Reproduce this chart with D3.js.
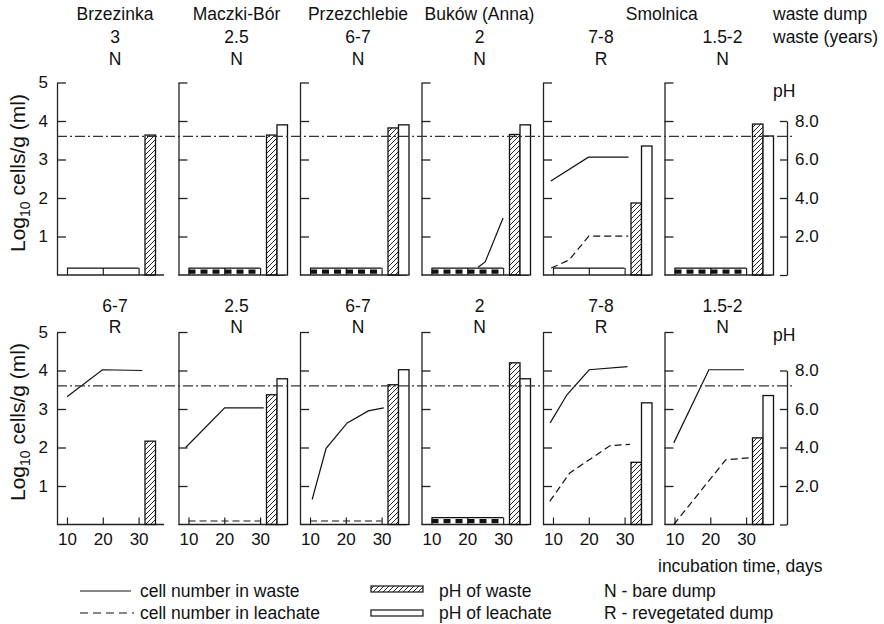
<!DOCTYPE html>
<html>
<head>
<meta charset="utf-8">
<script src="https://cdn.jsdelivr.net/npm/d3@7"></script>
<style>
  body { margin: 0; background: #fff; }
  text { font-family: "Liberation Sans", Arial, sans-serif; fill: #111; }
</style>
</head>
<body>
<script>
// dump names (top row only), Smolnica spans the last two panels
const siteNames = ['Brzezinka', 'Maczki-Bór', 'Przezchlebie', 'Buków (Anna)', 'Smolnica'];
const sitePanels = [[0], [1], [2], [3], [4, 5]];

// age of waste (years) and dump type, per row
const wasteAge = [
    ['3', '2.5', '6-7', '2', '7-8', '1.5-2'],
    ['6-7', '2.5', '6-7', '2', '7-8', '1.5-2']
];
const dumpType = [
    ['N', 'N', 'N', 'N', 'R', 'N'],
    ['R', 'N', 'N', 'N', 'R', 'N']
];

// pH bars (null = not measured)
const pHWaste = [
    [7.27, 7.27, 7.64, 7.3, 3.74, 7.84],
    [4.33, 6.74, 7.26, 8.4, 3.23, 4.5]
];
const pHLeachate = [
    [null, 7.8, 7.8, 7.8, 6.7, 7.22],
    [null, 7.57, 8.04, 7.57, 6.32, 6.7]
];

// log10 cells, [day, value]
const wasteCells = [
    [[], [], [], [[23, 0.2], [25, 0.34], [30, 1.48]], [[9.4, 2.44], [19.9, 3.06], [31.1, 3.06]], []],
    [
        [[10, 3.32], [19.9, 4.02], [31, 4.0]],
        [[9.2, 2.0], [20.1, 3.03], [31, 3.03]],
        [[10.6, 0.65], [14.5, 1.98], [20.4, 2.64], [26.3, 2.95], [30.6, 3.03]],
        [],
        [[9.2, 2.64], [13.9, 3.37], [20.1, 4.02], [30.8, 4.1]],
        [[9.8, 2.12], [19.6, 4.02], [29.4, 4.02]]
    ]
];
const leachateCells = [
    [[], [], [], [], [[9.5, 0.18], [14.5, 0.39], [20, 1.01], [31, 1.01]], []],
    [
        [], [], [], [],
        [[9.1, 0.6], [14.7, 1.34], [26, 2.05], [31.5, 2.08]],
        [[9.8, 0.0], [24.3, 1.68], [31.8, 1.74]]
    ]
];

// below-detection flat lines: 'waste', 'leachate', 'both' or ''
const belowLimit = [
    ['waste', 'both', 'both', 'both', 'waste', 'both'],
    ['', 'leachate', 'leachate', 'both', '', '']
];
const limitDays = [10, 30];
const wasteLimit = 0.18;
const leachateLimit = 0.09;

const dayTicks = [10, 20, 30];
const cellTicks = [1, 2, 3, 4, 5];
const pHTicks = [0, 2, 4, 6, 8];
const neutralPH = 7.2;

const W = 884, H = 624;
const rowBase = [275, 524.5];
const rowHeight = 192.5;
const panelLeft = i => 57 + i * 121.5;
const fontSize = 17.5;

const svg = d3.select('body').append('svg')
    .attr('width', W)
    .attr('height', H);

const defs = svg.append('defs');
defs.append('pattern')
    .attr('id', 'hatch')
    .attr('patternUnits', 'userSpaceOnUse')
    .attr('width', 5)
    .attr('height', 5)
    .append('path')
    .attr('d', 'M0,5 L5,0 M-1,1 L1,-1 M4,6 L6,4')
    .attr('stroke', '#111')
    .attr('stroke-width', 0.9);

const line = (x, y) => d3.line().x(d => x(d[0])).y(d => y(d[1]));

rowBase.forEach((y0, r) => {
    const y = d3.scaleLinear().domain([0, 5]).range([y0, y0 - rowHeight]);
    const yPH = d3.scaleLinear().domain([0, 8]).range([y0, y(4)]);

    for (let i = 0; i < 6; i++) {
        const ax = panelLeft(i);
        const x = d3.scaleLinear().domain([10, 30]).range([ax + 10, ax + 81.6]);
        const xb = d3.scaleBand().domain(['waste', 'leachate']).range([ax + 88, ax + 109]);
        const g = svg.append('g');

        // left axis
        const yAxis = d3.axisLeft(y)
            .tickValues(cellTicks)
            .tickSizeInner(-9)
            .tickSizeOuter(0)
            .tickPadding(9)
            .tickFormat(i === 0 ? d3.format('d') : '');
        const ya = g.append('g').attr('transform', `translate(${ax},0)`).call(yAxis);
        ya.selectAll('path, line').attr('stroke', '#222').attr('stroke-width', 1.3);
        ya.selectAll('text').attr('font-size', 17).attr('font-family', '"Liberation Sans", Arial, sans-serif').attr('fill', '#111');

        // baseline and day ticks
        g.append('line')
            .attr('x1', ax).attr('x2', ax + 107)
            .attr('y1', y0).attr('y2', y0)
            .attr('stroke', '#222').attr('stroke-width', 1.3);
        const xAxis = d3.axisBottom(x)
            .tickValues(dayTicks)
            .tickSizeInner(-7)
            .tickSizeOuter(0)
            .tickPadding(8)
            .tickFormat(r === 1 ? d3.format('d') : '');
        const xa = g.append('g').attr('transform', `translate(0,${y0})`).call(xAxis);
        xa.select('.domain').remove();
        xa.selectAll('line').attr('stroke', '#222').attr('stroke-width', 1.2);
        xa.selectAll('text').attr('font-size', 17).attr('font-family', '"Liberation Sans", Arial, sans-serif').attr('fill', '#111');

        // below-detection lines
        const lim = belowLimit[r][i];
        if (lim === 'waste' || lim === 'both') {
            g.append('path')
                .attr('d', line(x, y)(limitDays.map(d => [d, wasteLimit])))
                .attr('fill', 'none').attr('stroke', '#111').attr('stroke-width', 1.2);
        }
        if (lim === 'both') {
            g.append('path')
                .attr('d', line(x, y)(limitDays.map(d => [d, leachateLimit])))
                .attr('fill', 'none').attr('stroke', '#111').attr('stroke-width', 4.2)
                .attr('stroke-dasharray', '7,5');
        }
        if (lim === 'leachate') {
            g.append('path')
                .attr('d', line(x, y)(limitDays.map(d => [d, leachateLimit])))
                .attr('fill', 'none').attr('stroke', '#111').attr('stroke-width', 1.1)
                .attr('stroke-dasharray', '7,4');
        }

        // cell number curves
        if (wasteCells[r][i].length) {
            g.append('path')
                .attr('d', line(x, y)(wasteCells[r][i]))
                .attr('fill', 'none').attr('stroke', '#111').attr('stroke-width', 1.2);
        }
        if (leachateCells[r][i].length) {
            g.append('path')
                .attr('d', line(x, y)(leachateCells[r][i]))
                .attr('fill', 'none').attr('stroke', '#111').attr('stroke-width', 1.2)
                .attr('stroke-dasharray', '7,4');
        }

        // pH bars
        const bars = [['waste', pHWaste[r][i]], ['leachate', pHLeachate[r][i]]].filter(d => d[1] != null);
        g.selectAll('rect.bar')
            .data(bars)
            .enter()
            .append('rect')
            .attr('class', 'bar')
            .attr('x', d => xb(d[0]))
            .attr('width', xb.bandwidth())
            .attr('y', d => yPH(d[1]))
            .attr('height', d => y0 - yPH(d[1]))
            .attr('fill', d => d[0] === 'waste' ? 'url(#hatch)' : '#fff')
            .attr('stroke', '#111')
            .attr('stroke-width', 1.3);

        // panel headings
        const cx = ax + 58;
        svg.append('text').attr('x', cx).attr('y', r === 0 ? 43 : 312)
            .attr('text-anchor', 'middle').attr('font-size', fontSize).text(wasteAge[r][i]);
        svg.append('text').attr('x', cx).attr('y', r === 0 ? 65 : 333)
            .attr('text-anchor', 'middle').attr('font-size', fontSize).text(dumpType[r][i]);
    }

    // neutral pH reference line
    svg.append('line')
        .attr('x1', panelLeft(0)).attr('x2', 793)
        .attr('y1', yPH(neutralPH)).attr('y2', yPH(neutralPH))
        .attr('stroke', '#333').attr('stroke-width', 1.2)
        .attr('stroke-dasharray', '10,3,2,3');

    // right pH axis
    const pAxis = d3.axisRight(yPH)
        .tickValues(pHTicks)
        .tickSizeInner(-7)
        .tickSizeOuter(0)
        .tickPadding(8)
        .tickFormat(v => v === 0 ? '' : v.toFixed(1));
    const pa = svg.append('g').attr('transform', 'translate(787,0)').call(pAxis);
    pa.selectAll('path, line').attr('stroke', '#222').attr('stroke-width', 1.3);
    pa.selectAll('text').attr('font-size', 17).attr('font-family', '"Liberation Sans", Arial, sans-serif').attr('fill', '#111');

    svg.append('text').attr('x', 773).attr('y', r === 0 ? 97 : 341)
        .attr('font-size', fontSize).text('pH');

    // y label
    const yl = svg.append('text')
        .attr('transform', `translate(25,${r === 0 ? 173 : 422}) rotate(-90)`)
        .attr('text-anchor', 'middle')
        .attr('font-size', 21);
    yl.append('tspan').text('Log');
    yl.append('tspan').attr('font-size', 14).attr('dy', 5).text('10');
    yl.append('tspan').attr('dy', -5).text(' cells/g (ml)');
});

// dump names
siteNames.forEach((name, k) => {
    const cx = d3.mean(sitePanels[k], i => panelLeft(i) + 58);
    svg.append('text').attr('x', cx).attr('y', 20)
        .attr('text-anchor', 'middle').attr('font-size', fontSize).text(name);
});
svg.append('text').attr('x', 773).attr('y', 20).attr('font-size', fontSize).text('waste dump');
svg.append('text').attr('x', 773).attr('y', 43).attr('font-size', fontSize).text('waste (years)');

svg.append('text').attr('x', 658).attr('y', 572).attr('font-size', fontSize).text('incubation time, days');

// legend
const lg = svg.append('g');
lg.append('line').attr('x1', 80).attr('x2', 131).attr('y1', 591).attr('y2', 591)
    .attr('stroke', '#111').attr('stroke-width', 1.2);
lg.append('line').attr('x1', 80).attr('x2', 134).attr('y1', 613).attr('y2', 613)
    .attr('stroke', '#111').attr('stroke-width', 1.2).attr('stroke-dasharray', '8,5');
lg.append('text').attr('x', 140).attr('y', 597).attr('font-size', fontSize).text('cell number in waste');
lg.append('text').attr('x', 140).attr('y', 619).attr('font-size', fontSize).text('cell number in leachate');

lg.append('rect').attr('x', 371).attr('y', 586).attr('width', 52).attr('height', 6)
    .attr('fill', 'url(#hatch)').attr('stroke', '#111').attr('stroke-width', 1.2);
lg.append('rect').attr('x', 371).attr('y', 610).attr('width', 52).attr('height', 6)
    .attr('fill', '#fff').attr('stroke', '#111').attr('stroke-width', 1.2);
lg.append('text').attr('x', 439).attr('y', 597).attr('font-size', fontSize).text('pH of waste');
lg.append('text').attr('x', 439).attr('y', 619).attr('font-size', fontSize).text('pH of leachate');

lg.append('text').attr('x', 604).attr('y', 597).attr('font-size', fontSize).text('N - bare dump');
lg.append('text').attr('x', 604).attr('y', 619).attr('font-size', fontSize).text('R - revegetated dump');
</script>
</body>
</html>
